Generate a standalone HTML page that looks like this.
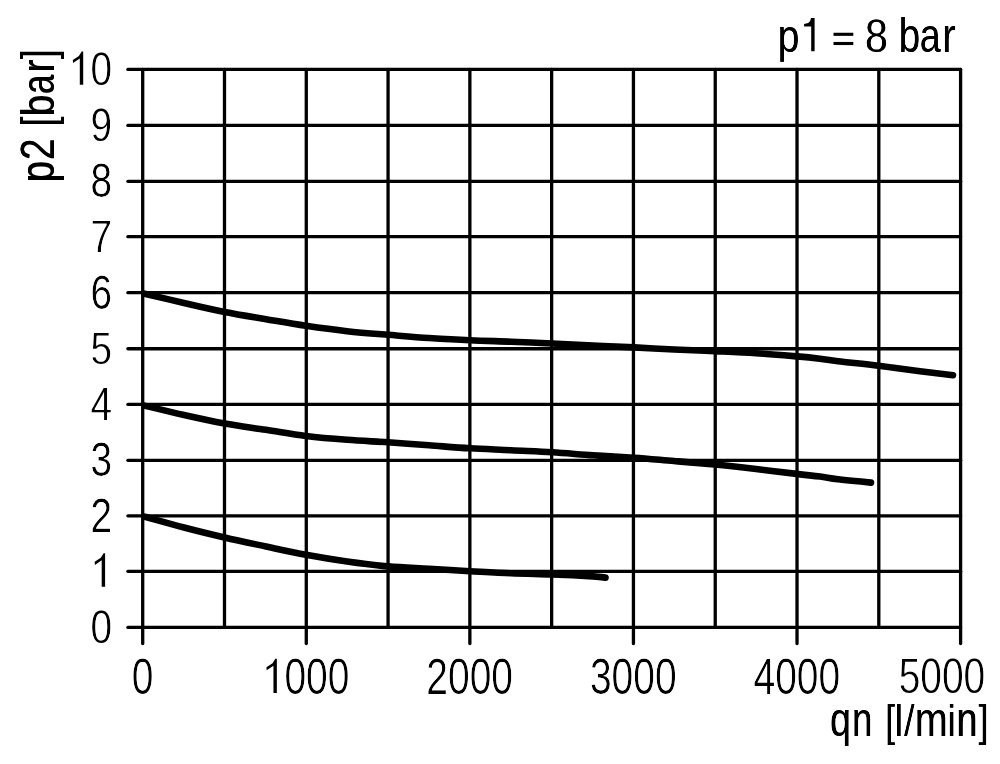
<!DOCTYPE html>
<html><head><meta charset="utf-8"><title>chart</title>
<style>
html,body{margin:0;padding:0;background:#fff;}
body{width:1000px;height:764px;overflow:hidden;font-family:"Liberation Sans",sans-serif;}
svg{display:block;}
text{font-family:"Liberation Sans",sans-serif;font-size:49px;fill:#000;}
</style></head><body>
<svg width="1000" height="764" viewBox="0 0 1000 764">
<defs><filter id="b" x="0" y="0" width="1000" height="764" filterUnits="userSpaceOnUse"><feGaussianBlur stdDeviation="0.45"/></filter>
<clipPath id="c1"><text x="-0.301" y="-0.10" style="font-size:46.8px">p</text><text x="0.301" y="-0.10" style="font-size:46.8px">p</text></clipPath>
<clipPath id="c2"><text x="-0.297" y="-0.10" style="font-size:48.8px">8</text><text x="0.297" y="-0.10" style="font-size:48.8px">8</text></clipPath>
<clipPath id="c3"><text x="-0.316" y="-0.10" style="font-size:48.6px">b</text><text x="0.316" y="-0.10" style="font-size:48.6px">b</text></clipPath>
<clipPath id="c4"><text x="-0.323" y="-0.10" style="font-size:48.6px">a</text><text x="0.323" y="-0.10" style="font-size:48.6px">a</text></clipPath>
<clipPath id="c5"><text x="-0.301" y="-0.10" style="font-size:48.6px">r</text><text x="0.301" y="-0.10" style="font-size:48.6px">r</text></clipPath>
<clipPath id="c6"><text x="0.000" y="-0.15" style="font-size:48.5px">0</text></clipPath>
<clipPath id="c7"><text x="0.000" y="-0.15" style="font-size:48.5px">2</text></clipPath>
<clipPath id="c8"><text x="0.000" y="-0.15" style="font-size:48.5px">3</text></clipPath>
<clipPath id="c9"><text x="0.000" y="-0.15" style="font-size:48.5px">4</text></clipPath>
<clipPath id="c10"><text x="0.000" y="-0.15" style="font-size:46.4px">5</text></clipPath>
<clipPath id="c11"><text x="0.000" y="-0.15" style="font-size:48.5px">6</text></clipPath>
<clipPath id="c12"><text x="0.000" y="-0.15" style="font-size:46.4px">7</text></clipPath>
<clipPath id="c13"><text x="0.000" y="-0.15" style="font-size:48.5px">8</text></clipPath>
<clipPath id="c14"><text x="0.000" y="-0.15" style="font-size:48.5px">9</text></clipPath>
<clipPath id="c15"><text x="0.000" y="-0.15" style="font-size:48.5px">0</text></clipPath>
<clipPath id="c16"><text x="0.000" y="-0.20" style="font-size:50.2px">0</text></clipPath>
<clipPath id="c17"><text x="0.000" y="-0.20" style="font-size:50.2px">000</text></clipPath>
<clipPath id="c18"><text x="0.000" y="-0.20" style="font-size:50.2px">2000</text></clipPath>
<clipPath id="c19"><text x="0.000" y="-0.20" style="font-size:50.2px">3000</text></clipPath>
<clipPath id="c20"><text x="0.000" y="-0.20" style="font-size:50.2px">4000</text></clipPath>
<clipPath id="c21"><text x="0.000" y="-0.20" style="font-size:49.6px">5000</text></clipPath>
<clipPath id="c22"><text x="-0.509" y="-0.20" style="font-size:47.5px">q</text><text x="0.509" y="-0.20" style="font-size:47.5px">q</text></clipPath>
<clipPath id="c23"><text x="-0.524" y="-0.20" style="font-size:47.5px">n</text><text x="0.524" y="-0.20" style="font-size:47.5px">n</text></clipPath>
<clipPath id="c24"><text x="-0.528" y="-0.20" style="font-size:45.2px">[</text><text x="0.528" y="-0.20" style="font-size:45.2px">[</text></clipPath>
<clipPath id="c25"><text x="-0.500" y="-0.20" style="font-size:45.2px">l</text><text x="0.500" y="-0.20" style="font-size:45.2px">l</text></clipPath>
<clipPath id="c26"><text x="-0.121" y="-0.20" style="font-size:45.2px">/</text><text x="0.121" y="-0.20" style="font-size:45.2px">/</text></clipPath>
<clipPath id="c27"><text x="-0.482" y="-0.20" style="font-size:47.5px">m</text><text x="0.482" y="-0.20" style="font-size:47.5px">m</text></clipPath>
<clipPath id="c28"><text x="-0.500" y="-0.20" style="font-size:45.2px">i</text><text x="0.500" y="-0.20" style="font-size:45.2px">i</text></clipPath>
<clipPath id="c29"><text x="-0.504" y="-0.20" style="font-size:47.5px">n</text><text x="0.504" y="-0.20" style="font-size:47.5px">n</text></clipPath>
<clipPath id="c30"><text x="-0.513" y="-0.20" style="font-size:45.2px">]</text><text x="0.513" y="-0.20" style="font-size:45.2px">]</text></clipPath>
</defs>
<rect width="1000" height="764" fill="#fff"/>
<g filter="url(#b)">
<g stroke="#000" stroke-width="3.3" fill="none" stroke-linecap="round">
<line x1="127.9" y1="627.45" x2="960.60" y2="627.45"/>
<line x1="127.9" y1="571.35" x2="960.60" y2="571.35"/>
<line x1="127.9" y1="515.80" x2="960.60" y2="515.80"/>
<line x1="127.9" y1="460.30" x2="960.60" y2="460.30"/>
<line x1="127.9" y1="404.40" x2="960.60" y2="404.40"/>
<line x1="127.9" y1="348.75" x2="960.60" y2="348.75"/>
<line x1="127.9" y1="292.70" x2="960.60" y2="292.70"/>
<line x1="127.9" y1="236.65" x2="960.60" y2="236.65"/>
<line x1="127.9" y1="181.30" x2="960.60" y2="181.30"/>
<line x1="127.9" y1="125.40" x2="960.60" y2="125.40"/>
<line x1="127.9" y1="69.40" x2="960.60" y2="69.40"/>
<line x1="142.70" y1="69.40" x2="142.70" y2="643.50"/>
<line x1="224.49" y1="69.40" x2="224.49" y2="627.45"/>
<line x1="306.28" y1="69.40" x2="306.28" y2="643.50"/>
<line x1="388.07" y1="69.40" x2="388.07" y2="627.45"/>
<line x1="469.86" y1="69.40" x2="469.86" y2="643.50"/>
<line x1="551.65" y1="69.40" x2="551.65" y2="627.45"/>
<line x1="633.44" y1="69.40" x2="633.44" y2="643.50"/>
<line x1="715.23" y1="69.40" x2="715.23" y2="627.45"/>
<line x1="797.02" y1="69.40" x2="797.02" y2="643.50"/>
<line x1="878.81" y1="69.40" x2="878.81" y2="627.45"/>
<line x1="960.60" y1="69.40" x2="960.60" y2="643.50"/>
</g>
<g stroke="#000" stroke-width="6.6" fill="none" stroke-linecap="round" stroke-linejoin="round">
<path d="M144.6 293.7 C151.2 295.2 170.7 299.9 184.0 303.0 C197.3 306.1 210.9 309.3 224.6 312.0 C238.3 314.7 252.4 316.9 266.0 319.2 C279.6 321.5 292.5 323.8 306.0 325.8 C319.5 327.8 333.3 329.7 347.0 331.2 C360.7 332.7 374.3 333.7 388.0 334.8 C401.7 335.9 415.3 337.1 429.0 338.0 C442.7 338.9 456.3 339.7 470.0 340.3 C483.7 340.9 497.3 341.2 511.0 341.7 C524.7 342.2 538.3 342.9 552.0 343.5 C565.7 344.1 579.3 345.0 593.0 345.6 C606.7 346.2 620.5 346.8 634.0 347.4 C647.5 348.0 660.5 348.9 674.0 349.5 C687.5 350.1 701.3 350.6 715.0 351.2 C728.7 351.8 742.3 352.3 756.0 353.2 C769.7 354.1 786.3 355.5 797.0 356.4 C807.7 357.3 813.2 357.9 820.0 358.7 C826.8 359.5 828.2 360.0 838.0 361.2 C847.8 362.4 864.9 364.1 878.6 365.8 C892.3 367.5 907.6 369.6 920.0 371.2 C932.4 372.8 947.5 374.5 953.0 375.2"/>
<path d="M144.6 405.6 C151.2 407.2 170.7 412.0 184.0 415.0 C197.3 418.0 210.9 421.0 224.6 423.5 C238.3 426.0 252.4 427.7 266.0 429.8 C279.6 431.9 292.5 434.3 306.0 436.0 C319.5 437.7 333.3 438.8 347.0 439.8 C360.7 440.9 374.3 441.4 388.0 442.3 C401.7 443.2 415.3 444.3 429.0 445.3 C442.7 446.3 456.3 447.5 470.0 448.3 C483.7 449.1 497.3 449.6 511.0 450.3 C524.7 451.0 538.3 451.5 552.0 452.3 C565.7 453.1 579.3 454.4 593.0 455.3 C606.7 456.2 620.5 456.8 634.0 457.7 C647.5 458.6 660.5 459.9 674.0 461.0 C687.5 462.1 701.3 463.2 715.0 464.5 C728.7 465.8 742.4 467.4 756.0 469.0 C769.6 470.6 785.9 472.6 796.6 473.9 C807.3 475.2 813.1 475.7 820.0 476.6 C826.9 477.5 829.5 478.3 838.0 479.3 C846.5 480.3 865.5 482.1 871.0 482.6"/>
<path d="M144.6 516.7 C151.2 518.5 170.7 524.0 184.0 527.5 C197.3 531.0 210.9 534.3 224.6 537.5 C238.3 540.7 252.4 543.6 266.0 546.5 C279.6 549.4 292.5 552.3 306.0 554.8 C319.5 557.3 333.3 559.6 347.0 561.5 C360.7 563.4 374.3 565.2 388.0 566.4 C401.7 567.6 415.3 568.0 429.0 568.8 C442.7 569.6 456.3 570.5 470.0 571.2 C483.7 571.9 497.3 572.7 511.0 573.2 C524.7 573.8 538.3 574.0 552.0 574.5 C565.7 575.0 584.1 575.9 593.0 576.4 C601.9 576.9 603.4 577.4 605.5 577.6"/>
</g>
<g transform="translate(777.69 51.80) scale(0.8315 1)" clip-path="url(#c1)"><text x="-0.301" y="0.10" style="font-size:46.8px">p</text><text x="0.301" y="0.10" style="font-size:46.8px">p</text></g>
<path d="M814.60 51.20 L814.60 18.10 L811.00 18.10 L810.20 21.10 L808.20 23.00 L804.10 24.00 L804.10 26.50 L811.20 26.50 L811.20 51.20Z" fill="#000"/>
<rect x="833.50" y="32.75" width="19.80" height="3.10" fill="#000"/>
<rect x="833.50" y="41.95" width="19.80" height="3.10" fill="#000"/>
<g transform="translate(865.06 52.40) scale(0.8428 1)" clip-path="url(#c2)"><text x="-0.297" y="0.10" style="font-size:48.8px">8</text><text x="0.297" y="0.10" style="font-size:48.8px">8</text></g>
<g transform="translate(898.77 52.30) scale(0.7916 1)" clip-path="url(#c3)"><text x="-0.316" y="0.10" style="font-size:48.6px">b</text><text x="0.316" y="0.10" style="font-size:48.6px">b</text></g>
<g transform="translate(919.65 52.30) scale(0.7731 1)" clip-path="url(#c4)"><text x="-0.323" y="0.10" style="font-size:48.6px">a</text><text x="0.323" y="0.10" style="font-size:48.6px">a</text></g>
<g transform="translate(942.27 51.90) scale(0.8313 1)" clip-path="url(#c5)"><text x="-0.301" y="0.10" style="font-size:48.6px">r</text><text x="0.301" y="0.10" style="font-size:48.6px">r</text></g>
<g transform="translate(90.44 643.45) scale(0.8 1)" clip-path="url(#c6)"><text x="0.000" y="0.15" style="font-size:48.5px" stroke="#fff" stroke-width="0.2">0</text></g>
<path d="M105.10 586.75 L105.10 553.35 L103.60 553.35 L100.80 557.85 L94.70 561.85 L94.90 565.05 L101.70 560.35 L101.70 586.75Z" fill="#000"/>
<g transform="translate(90.44 531.80) scale(0.8 1)" clip-path="url(#c7)"><text x="0.000" y="0.15" style="font-size:48.5px" stroke="#fff" stroke-width="0.2">2</text></g>
<g transform="translate(90.44 476.30) scale(0.8 1)" clip-path="url(#c8)"><text x="0.000" y="0.15" style="font-size:48.5px" stroke="#fff" stroke-width="0.2">3</text></g>
<g transform="translate(90.44 420.40) scale(0.8 1)" clip-path="url(#c9)"><text x="0.000" y="0.15" style="font-size:48.5px" stroke="#fff" stroke-width="0.2">4</text></g>
<g transform="translate(90.44 364.50) scale(0.8362068965517243 1)" clip-path="url(#c10)"><text x="0.000" y="0.15" style="font-size:46.4px" stroke="#fff" stroke-width="0.2">5</text></g>
<g transform="translate(90.44 308.70) scale(0.8 1)" clip-path="url(#c11)"><text x="0.000" y="0.15" style="font-size:48.5px" stroke="#fff" stroke-width="0.2">6</text></g>
<g transform="translate(90.44 252.40) scale(0.8362068965517243 1)" clip-path="url(#c12)"><text x="0.000" y="0.15" style="font-size:46.4px" stroke="#fff" stroke-width="0.2">7</text></g>
<g transform="translate(90.44 197.30) scale(0.8 1)" clip-path="url(#c13)"><text x="0.000" y="0.15" style="font-size:48.5px" stroke="#fff" stroke-width="0.2">8</text></g>
<g transform="translate(90.44 141.40) scale(0.8 1)" clip-path="url(#c14)"><text x="0.000" y="0.15" style="font-size:48.5px" stroke="#fff" stroke-width="0.2">9</text></g>
<path d="M83.20 84.80 L83.20 51.40 L81.70 51.40 L78.90 55.90 L72.80 59.90 L73.00 63.10 L79.80 58.40 L79.80 84.80Z" fill="#000"/>
<g transform="translate(90.44 85.40) scale(0.8 1)" clip-path="url(#c15)"><text x="0.000" y="0.15" style="font-size:48.5px" stroke="#fff" stroke-width="0.2">0</text></g>
<g transform="translate(131.67 693.80) scale(0.776 1)" clip-path="url(#c16)"><text x="0.000" y="0.20" style="font-size:50.2px" stroke="#fff" stroke-width="0.2">0</text></g>
<path d="M276.85 692.90 L276.85 658.66 L275.35 658.66 L272.55 663.16 L266.45 667.16 L266.65 670.36 L273.45 665.66 L273.45 692.90Z" fill="#000"/><g transform="translate(284.41 693.80) scale(0.776 1)" clip-path="url(#c17)"><text x="0.000" y="0.20" style="font-size:50.2px" stroke="#fff" stroke-width="0.2">000</text></g>
<g transform="translate(426.33 693.80) scale(0.776 1)" clip-path="url(#c18)"><text x="0.000" y="0.20" style="font-size:50.2px" stroke="#fff" stroke-width="0.2">2000</text></g>
<g transform="translate(589.91 693.80) scale(0.776 1)" clip-path="url(#c19)"><text x="0.000" y="0.20" style="font-size:50.2px" stroke="#fff" stroke-width="0.2">3000</text></g>
<g transform="translate(753.49 693.80) scale(0.776 1)" clip-path="url(#c20)"><text x="0.000" y="0.20" style="font-size:50.2px" stroke="#fff" stroke-width="0.2">4000</text></g>
<g transform="translate(898.63 693.60) scale(0.7853870967741936 1)" clip-path="url(#c21)"><text x="0.000" y="0.20" style="font-size:49.6px" stroke="#fff" stroke-width="0.2">5000</text></g>
<g transform="translate(830.03 735.90) scale(0.7856 1)" clip-path="url(#c22)"><text x="-0.509" y="0.20" style="font-size:47.5px">q</text><text x="0.509" y="0.20" style="font-size:47.5px">q</text></g>
<g transform="translate(852.19 735.90) scale(0.7632 1)" clip-path="url(#c23)"><text x="-0.524" y="0.20" style="font-size:47.5px">n</text><text x="0.524" y="0.20" style="font-size:47.5px">n</text></g>
<g transform="translate(885.36 736.20) scale(0.7570 1)" clip-path="url(#c24)"><text x="-0.528" y="0.20" style="font-size:45.2px">[</text><text x="0.528" y="0.20" style="font-size:45.2px">[</text></g>
<g transform="translate(894.87 735.90) scale(0.8000 1)" clip-path="url(#c25)"><text x="-0.500" y="0.20" style="font-size:45.2px">l</text><text x="0.500" y="0.20" style="font-size:45.2px">l</text></g>
<g transform="translate(904.20 735.90) scale(0.8282 1)" clip-path="url(#c26)"><text x="-0.121" y="0.20" style="font-size:45.2px">/</text><text x="0.121" y="0.20" style="font-size:45.2px">/</text></g>
<g transform="translate(914.78 735.90) scale(0.8293 1)" clip-path="url(#c27)"><text x="-0.482" y="0.20" style="font-size:47.5px">m</text><text x="0.482" y="0.20" style="font-size:47.5px">m</text></g>
<g transform="translate(947.69 735.90) scale(0.8000 1)" clip-path="url(#c28)"><text x="-0.500" y="0.20" style="font-size:45.2px">i</text><text x="0.500" y="0.20" style="font-size:45.2px">i</text></g>
<g transform="translate(956.50 735.90) scale(0.7929 1)" clip-path="url(#c29)"><text x="-0.504" y="0.20" style="font-size:47.5px">n</text><text x="0.504" y="0.20" style="font-size:47.5px">n</text></g>
<g transform="translate(978.52 736.20) scale(0.7793 1)" clip-path="url(#c30)"><text x="-0.513" y="0.20" style="font-size:45.2px">]</text><text x="0.513" y="0.20" style="font-size:45.2px">]</text></g>
<g transform="translate(54.30 182.14) rotate(-90) scale(0.7958 1)"><text x="-0.377" y="0.00" style="font-size:47.5px">p</text><text x="0.377" y="0.00" style="font-size:47.5px">p</text></g>
<g transform="translate(54.30 160.04) rotate(-90) scale(0.8049 1)"><text x="-0.373" y="0.00" style="font-size:48.0px">2</text><text x="0.373" y="0.00" style="font-size:48.0px">2</text></g>
<g transform="translate(54.30 126.10) rotate(-90) scale(0.7329 1)"><text x="-0.409" y="0.00" style="font-size:46.0px">[</text><text x="0.409" y="0.00" style="font-size:46.0px">[</text></g>
<g transform="translate(54.30 116.17) rotate(-90) scale(0.8315 1)"><text x="-0.361" y="0.00" style="font-size:46.0px">b</text><text x="0.361" y="0.00" style="font-size:46.0px">b</text></g>
<g transform="translate(54.30 93.98) rotate(-90) scale(0.7414 1)"><text x="-0.405" y="0.00" style="font-size:47.0px">a</text><text x="0.405" y="0.00" style="font-size:47.0px">a</text></g>
<g transform="translate(54.30 72.20) rotate(-90) scale(0.8000 1)"><text x="-0.375" y="0.00" style="font-size:47.0px">r</text><text x="0.375" y="0.00" style="font-size:47.0px">r</text></g>
<g transform="translate(54.30 58.86) rotate(-90) scale(0.7220 1)"><text x="-0.416" y="0.00" style="font-size:46.0px">]</text><text x="0.416" y="0.00" style="font-size:46.0px">]</text></g>
</g></svg></body></html>
